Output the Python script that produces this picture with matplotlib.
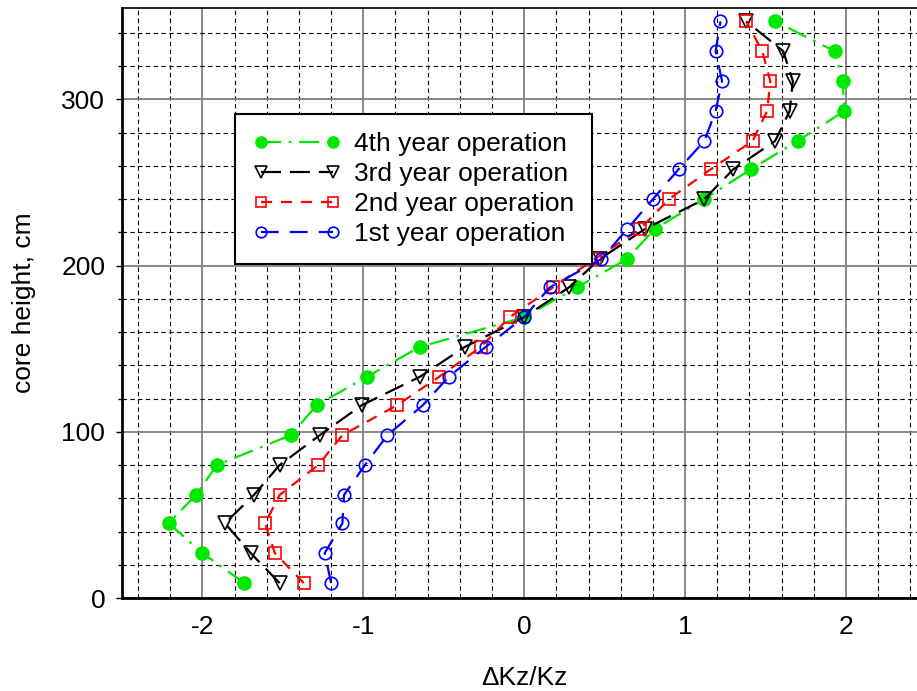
import matplotlib
matplotlib.use("Agg")
import matplotlib.pyplot as plt
from matplotlib.ticker import MultipleLocator

plt.rcParams['font.family'] = ['Liberation Sans', 'DejaVu Sans']
plt.rcParams['axes.unicode_minus'] = False

heights = [9, 27, 45, 62, 80, 98, 116, 133, 151, 169, 187, 204, 222, 240, 258, 275, 293, 311, 329, 347]
year4 = [-1.74, -2.00, -2.21, -2.04, -1.91, -1.45, -1.29, -0.98, -0.65, 0.00, 0.33, 0.64, 0.81, 1.12, 1.41, 1.70, 1.99, 1.98, 1.93, 1.56]
year3 = [-1.52, -1.70, -1.86, -1.68, -1.52, -1.27, -1.01, -0.65, -0.37, 0.00, 0.28, 0.47, 0.75, 1.12, 1.30, 1.56, 1.65, 1.67, 1.61, 1.38]
year2 = [-1.37, -1.55, -1.61, -1.52, -1.28, -1.13, -0.79, -0.53, -0.27, -0.09, 0.18, 0.44, 0.72, 0.90, 1.16, 1.42, 1.51, 1.53, 1.48, 1.38]
year1 = [-1.20, -1.24, -1.13, -1.12, -0.99, -0.85, -0.63, -0.47, -0.24, 0.00, 0.16, 0.48, 0.64, 0.80, 0.96, 1.12, 1.19, 1.23, 1.19, 1.22]
labels = ['4th year operation', '3rd year operation', '2nd year operation', '1st year operation']

fig = plt.figure(figsize=(9.17, 6.91), dpi=100)
ax_w = (926.4 - 122) / 917
ax = fig.add_axes([122/917, 1-598/691, ax_w, (598-8)/691])

ax.plot(year4, heights, color='#00e800', lw=1.6, linestyle=(0, (9, 3.5, 1.2, 3.5)),
        marker='o', ms=9.5, mfc='#00e800', mec='#00e800', label=labels[0], zorder=4)
ax.plot(year3, heights, color='black', lw=1.6, linestyle=(0, (9, 4)),
        marker='v', ms=10.5, mfc='none', mec='black', mew=1.2, label=labels[1], zorder=5)
ax.plot(year2, heights, color='#ff0000', lw=1.6, linestyle=(0, (5, 4)),
        marker='s', ms=9, mfc='none', mec='#ff0000', mew=1.2, label=labels[2], zorder=5)
ax.plot(year1, heights, color='#0000ff', lw=1.6, linestyle=(0, (8, 5)),
        marker='o', ms=9, mfc='none', mec='#0000ff', mew=1.2, label=labels[3], zorder=5)

ax.set_xlim(-2.5, 2.5)
ax.set_ylim(0, 355)
ax.xaxis.set_major_locator(MultipleLocator(1))
ax.xaxis.set_minor_locator(MultipleLocator(0.2))
ax.yaxis.set_major_locator(MultipleLocator(100))
ax.yaxis.set_minor_locator(MultipleLocator(20))
ax.grid(which='minor', color='black', linestyle=(0, (4, 3)), lw=0.8)
ax.grid(which='major', color='#808080', linestyle='-', lw=1.3)
ax.set_axisbelow(True)

ax.tick_params(axis='x', which='both', length=0, labelsize=19, pad=12)
ax.tick_params(axis='y', which='major', length=4, width=1, direction='out', labelsize=19, pad=8)
ax.tick_params(axis='y', which='minor', length=3, width=1, direction='out')
for s in ['left', 'bottom']:
    ax.spines[s].set_linewidth(2)
for s in ['top', 'right']:
    ax.spines[s].set_linewidth(1.2)

ax.set_xlabel('ΔKz/Kz', fontsize=19, labelpad=20)
ax.set_ylabel('core height, cm', fontsize=19, labelpad=18)

leg = ax.legend(loc='upper left', bbox_to_anchor=((235-122)/(926.4-122), 1-(114-8)/590),
                bbox_transform=ax.transAxes, borderaxespad=0,
                fontsize=19, numpoints=2, handlelength=3.3, frameon=True, fancybox=False,
                edgecolor='black', framealpha=1, borderpad=0.7, labelspacing=0.22,
                handletextpad=0.5, markerscale=0.85)
leg.get_frame().set_linewidth(1.5)

fig.savefig('out.png', dpi=100)
